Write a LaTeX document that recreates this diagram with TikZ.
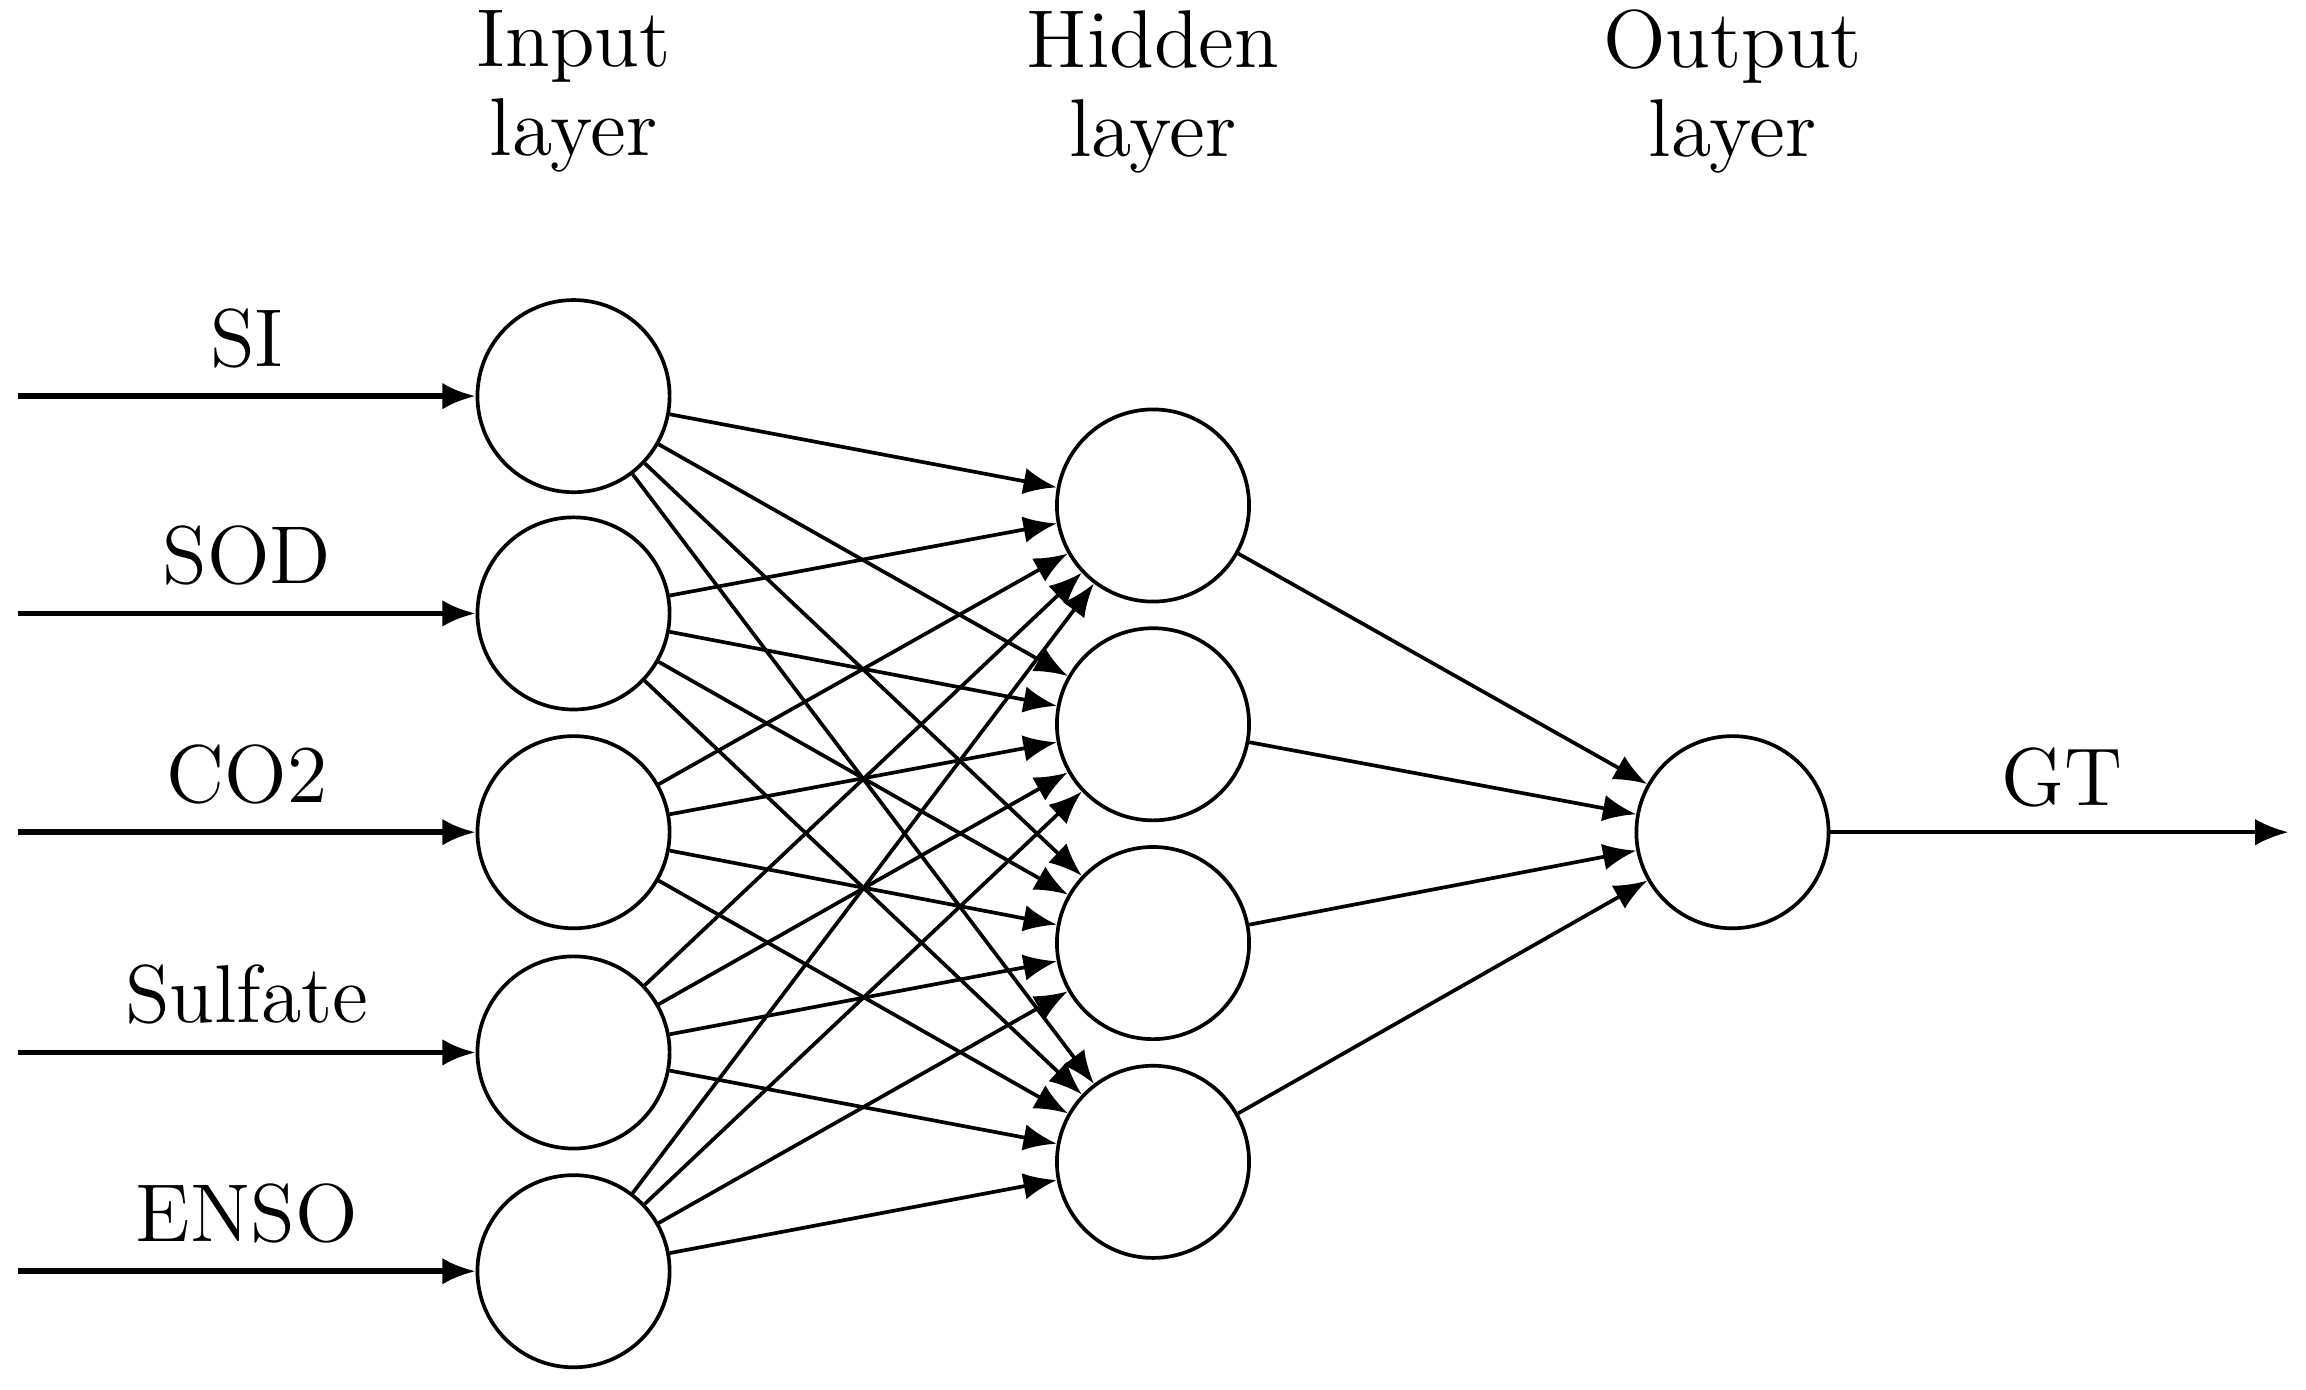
\documentclass[tikz,border=0pt]{standalone}
\usetikzlibrary{arrows.meta}
\begin{document}
\begin{tikzpicture}[x=0.2pt,y=-0.2pt,
  neuron/.style={circle,draw,line width=0.5pt,minimum size=26pt,inner sep=0pt},
  conn/.style={line width=0.5pt,-{Latex[length=4.5pt,width=3.6pt]}},
  inconn/.style={line width=0.75pt,-{Latex[length=4.5pt,width=3.6pt]}},
  lab/.style={font=\fontsize{11.1}{13}\selectfont},
  head/.style={font=\fontsize{11.1}{12}\selectfont,align=center}]
\useasboundingbox (0,0) rectangle (1560,940);
\foreach \i/\y in {1/268,2/415,3/563,4/712,5/860}
  \node[neuron] (I\i) at (388,\y) {};
\foreach \i/\y in {1/342,2/490,3/638,4/786}
  \node[neuron] (H\i) at (780,\y) {};
\node[neuron] (O) at (1172,563) {};
\foreach \i/\y/\t in {1/268/SI,2/415/SOD,3/563/CO2,4/712/Sulfate,5/860/ENSO}{
  \coordinate (s\i) at (12,\y);
  \draw[inconn] (s\i) -- (I\i);
  \node[lab] (l\i) at (167,\y-39) {\t};
}
\foreach \i in {1,...,5}\foreach \j in {1,...,4}\draw[conn] (I\i) -- (H\j);
\foreach \j in {1,...,4}\draw[conn] (H\j) -- (O);
\coordinate (e) at (1548,563);
\draw[conn] (O) -- (e);
\node[lab] (gt) at (1395,526) {GT};
\node[head] (h1) at (388,62) {Input\\layer};
\node[head] (h2) at (780,62) {Hidden\\layer};
\node[head] (h3) at (1172,62) {Output\\layer};
\end{tikzpicture}
\end{document}
